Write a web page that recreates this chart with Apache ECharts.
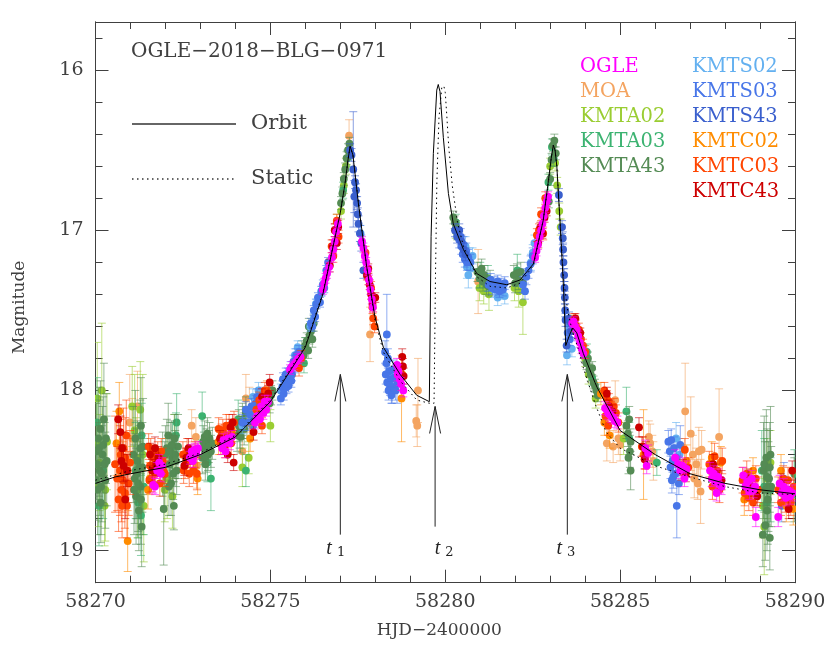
<!DOCTYPE html>
<html><head><meta charset="utf-8">
<style>html,body{margin:0;padding:0;background:#fff}#c{width:830px;height:650px}</style>
<script src="https://cdn.jsdelivr.net/npm/echarts@6/dist/echarts.min.js"></script></head>
<body><div id="c"></div>
<script>
const T0 = 58270;
const yMajor = [16, 17, 18, 19];
const yMinor = [15.8, 16.2, 16.4, 16.6, 16.8, 17.2, 17.4, 17.6, 17.8, 18.2, 18.4, 18.6, 18.8];
const titleText = 'OGLE\u22122018\u2212BLG\u22120971';

// [days after 58270, magnitude, error]
const OGLE = [[1.65,18.59,.05],[1.7,18.6,.05],[1.76,18.5,.05],[1.82,18.45,.05],[1.87,18.52,.05],[1.9,18.47,.05],
[2.7,18.42,.04],[2.75,18.38,.04],[2.78,18.44,.04],[2.8,18.41,.04],[2.84,18.37,.04],[2.88,18.39,.04],[2.93,18.36,.04],
[3.62,18.36,.04],[3.66,18.31,.04],[3.68,18.33,.04],[3.72,18.38,.04],[3.78,18.3,.04],[3.84,18.33,.04],[3.9,18.29,.04],
[4.56,18.2,.04],[4.62,18.16,.04],[4.7,18.18,.04],[4.74,18.1,.04],[4.8,18.14,.04],[4.84,18.07,.04],[4.88,18.12,.04],[4.93,18.07,.04],
[5.56,17.87,.03],[5.62,17.85,.03],[5.68,17.84,.03],[5.74,17.82,.03],[5.8,17.8,.03],[5.86,17.79,.03],
[6.5,17.37,.03],[6.54,17.33,.03],[6.58,17.3,.03],[6.62,17.27,.03],[6.68,17.23,.03],[6.76,17.17,.03],[6.8,17.12,.03],[6.84,17.07,.03],[6.88,17.01,.03],[6.93,16.96,.03],
[7.62,17.07,.03],[7.66,17.11,.03],[7.7,17.16,.03],[7.74,17.2,.03],[7.78,17.25,.03],[7.82,17.31,.03],[7.86,17.37,.03],[7.9,17.43,.03],[7.93,17.48,.03],
[8.62,17.84,.04],[8.64,17.9,.04],[8.66,17.88,.04],[8.7,17.93,.04],[8.74,17.96,.04],[8.8,18.0,.04],
[12.57,17.17,.03],[12.61,17.13,.03],[12.65,17.09,.03],[12.7,17.04,.03],[12.74,17.0,.03],[12.78,16.96,.03],[12.82,16.91,.03],[12.86,16.86,.03],[12.9,16.82,.03],[12.94,16.79,.03],
[13.63,17.58,.03],[13.67,17.57,.03],[13.71,17.6,.03],[13.76,17.62,.03],[13.8,17.66,.03],[13.85,17.7,.03],[13.9,17.74,.03],[13.95,17.77,.03],
[14.57,18.11,.04],[14.62,18.12,.04],[14.66,18.14,.04],[14.7,18.15,.04],[14.75,18.16,.04],[14.8,18.17,.04],[14.85,18.19,.04],[14.92,18.2,.04],
[15.72,18.36,.05],[15.76,18.47,.05],[15.8,18.39,.05],
[16.57,18.42,.05],[16.66,18.46,.05],[16.72,18.5,.05],[16.78,18.47,.05],[16.84,18.55,.05],[16.9,18.49,.05],
[17.57,18.5,.05],[17.62,18.55,.05],[17.68,18.52,.05],[17.72,18.57,.05],[17.76,18.64,.05],[17.8,18.54,.05],[17.86,18.59,.05],[17.9,18.6,.05],
[18.52,18.53,.05],[18.58,18.6,.05],[18.64,18.57,.05],[18.7,18.63,.05],[18.76,18.55,.05],[18.82,18.62,.05],[18.86,18.6,.05],[18.88,18.79,.06],
[19.52,18.79,.06],[19.56,18.58,.05],[19.62,18.64,.05],[19.68,18.6,.05],[19.74,18.67,.05],[19.8,18.62,.05],[19.86,18.66,.05],[19.92,18.64,.05]];

const MOA = [[.72,18.36,.2],[.98,18.2,.3],[1.2,18.1,.22],[1.05,18.3,.25],[2.87,18.29,.12],[2.9,18.47,.14],[2.75,18.22,.1],
[4.2,18.38,.12],[4.3,18.05,.15],[4.4,18.12,.14],[7.25,16.41,.1],[7.85,17.65,.17],[9.22,18.0,.2],[9.17,18.19,.1],[9.2,18.22,.13],[10.94,17.32,.2],
[14.86,18.06,.12],[14.62,18.33,.11],[14.8,18.35,.1],[14.95,18.3,.1],[15.0,18.34,.1],[15.82,18.29,.1],[15.86,18.33,.12],[15.92,18.38,.1],[15.95,18.44,.12],
[16.86,18.13,.3],[17.02,18.27,.23],[17.08,18.4,.12],[17.12,18.55,.12],[17.18,18.46,.1],[17.25,18.38,.15],[17.3,18.63,.2],[17.22,18.58,.1],[17.33,18.37,.12],[17.83,18.29,.3]];

const KMTA02 = [[.05,18.05,.35],[.18,18.0,.42],[.12,18.45,.3],[.28,18.62,.32],[.02,18.33,.25],[.26,18.72,.25],[.08,18.6,.25],[.33,18.32,.3],[1.12,18.25,.35],[1.35,18.4,.5],[1.2,18.62,.3],[1.05,18.1,.25],[1.38,18.72,.35],[1.28,18.12,.3],[1.16,18.42,.25],
[2.05,18.55,.25],[2.2,18.66,.2],[2.25,18.35,.2],[1.98,18.62,.2],[4.2,18.48,.12],[4.38,18.42,.1],[5.0,18.22,.1],[6.9,16.95,.05],[7.02,16.88,.05],[7.1,16.72,.05],[7.16,16.6,.05],
[10.3,17.0,.05],[10.98,17.36,.08],[11.1,17.38,.08],[11.25,17.4,.1],[11.98,17.36,.08],[12.22,17.45,.2],[12.1,17.38,.1],
[13.0,16.6,.05],[13.14,16.58,.05],[13.2,16.72,.05],[13.26,16.88,.05],[13.3,16.98,.05],[14.0,17.8,.05],[14.1,17.9,.06],[14.3,18.05,.06],[15.1,18.3,.1],[19.12,18.85,.3],[19.2,18.55,.25],[19.3,18.45,.2],[19.08,18.72,.2]];

const KMTA03 = [[.1,18.72,.25],[.04,18.2,.28],[.22,18.5,.3],[1.15,18.5,.3],[1.3,18.78,.25],[1.38,18.6,.3],[1.22,18.7,.22],[1.32,18.28,.2],[2.2,18.35,.15],[2.32,18.2,.18],[2.3,18.28,.14],
[3.05,18.16,.15],[3.3,18.55,.2],[3.2,18.45,.12],[4.08,18.18,.12],[4.3,18.5,.1],[5.96,17.83,.06],[6.0,17.72,.05],[7.08,16.75,.05],[7.2,16.55,.05],
[10.3,16.95,.05],[11.0,17.28,.08],[11.22,17.3,.08],[12.06,17.25,.1],[12.95,16.7,.05],[13.05,16.48,.05],[13.1,16.55,.05],[14.05,17.76,.05],[14.2,17.92,.05],
[15.18,18.13,.15],[15.26,18.3,.1],[16.05,18.45,.08],[19.05,18.5,.25],[19.2,18.7,.2],[19.3,18.62,.2],[19.12,18.6,.3],[19.98,18.52,.15]];

const KMTA43 = [[.02,18.38,.3],[.08,18.3,.32],[.12,18.5,.28],[.16,18.6,.3],[.2,18.4,.3],[.24,18.18,.35],[.28,18.56,.3],[.32,18.44,.28],[.06,18.62,.28],[.14,18.24,.3],[.04,18.46,.26],[.1,18.36,.3],[.18,18.52,.3],[.22,18.34,.3],[.26,18.46,.26],[.3,18.3,.28],[.01,18.56,.25],[.15,18.7,.25],
[1.08,18.4,.3],[1.12,18.55,.28],[1.16,18.66,.3],[1.2,18.44,.25],[1.24,18.75,.25],[1.28,18.6,.3],[1.3,18.22,.3],[1.32,18.85,.25],[1.36,18.35,.3],[1.34,18.48,.28],[1.14,18.3,.3],[1.18,18.52,.28],[1.22,18.58,.3],[1.26,18.48,.26],[1.3,18.68,.28],[1.1,18.62,.28],[1.28,18.36,.3],
[1.92,18.46,.2],[1.98,18.52,.2],[2.04,18.36,.18],[2.08,18.28,.2],[2.12,18.46,.18],[2.16,18.58,.2],[2.2,18.42,.15],[2.24,18.72,.15],[2.28,18.4,.15],[2.32,18.5,.15],[2.36,18.35,.2],[1.95,18.74,.35],[2.1,18.6,.18],[2.0,18.4,.18],[2.14,18.38,.18],[2.18,18.34,.15],[2.22,18.52,.16],[2.26,18.3,.15],[2.3,18.44,.16],
[3.05,18.42,.1],[3.1,18.36,.1],[3.14,18.46,.1],[3.18,18.34,.1],[3.22,18.4,.1],[3.26,18.3,.1],[3.3,18.38,.1],[3.34,18.33,.1],[3.12,18.29,.1],[3.2,18.27,.1],[3.08,18.32,.1],[3.16,18.41,.1],[3.24,18.35,.1],
[4.05,18.28,.1],[4.1,18.22,.1],[4.15,18.29,.1],[4.2,18.18,.1],[4.25,18.24,.1],[4.3,18.14,.1],[4.33,18.2,.1],[4.12,18.26,.1],[4.22,18.2,.1],
[4.98,18.08,.06],[5.02,18.03,.06],[5.06,18.0,.06],
[5.9,17.74,.05],[5.95,17.78,.05],[6.0,17.72,.05],[6.04,17.69,.05],[6.08,17.75,.05],[6.12,17.66,.05],[6.16,17.63,.05],[6.2,17.68,.05],[6.1,17.6,.05],[6.24,17.58,.05],
[7.02,16.83,.04],[7.06,16.77,.04],[7.1,16.68,.04],[7.14,16.62,.04],[7.18,16.55,.04],[7.22,16.5,.04],[7.26,16.46,.04],
[10.23,16.92,.04],[10.27,16.95,.04],[10.31,16.98,.04],[10.34,17.02,.04],
[10.92,17.26,.06],[10.98,17.3,.06],[11.04,17.24,.06],[11.08,17.32,.06],[11.12,17.28,.06],[11.18,17.34,.06],[11.24,17.35,.06],[11.28,17.31,.06],
[11.96,17.28,.06],[12.0,17.33,.06],[12.05,17.27,.06],[12.1,17.31,.06],[12.16,17.26,.06],[12.22,17.33,.06],
[12.96,16.82,.04],[13.0,16.68,.04],[13.04,16.56,.04],[13.08,16.47,.04],[13.12,16.44,.04],[13.16,16.52,.04],
[13.98,17.78,.04],[14.04,17.83,.04],[14.08,17.8,.04],[14.12,17.87,.04],[14.16,17.9,.04],[14.2,17.86,.04],[14.24,17.95,.04],[14.28,17.97,.04],[14.32,18.0,.04],[14.36,18.03,.04],
[15.18,18.22,.08],[15.22,18.27,.08],[15.26,18.18,.08],[15.3,18.32,.08],[15.28,18.38,.1],[15.24,18.42,.1],[15.3,18.5,.12],
[19.1,18.5,.3],[19.14,18.62,.3],[19.18,18.42,.3],[19.22,18.68,.28],[19.26,18.55,.3],[19.3,18.4,.3],[19.08,18.9,.2],[19.28,18.92,.2],[19.2,18.75,.25],[19.15,18.84,.22],[19.32,18.6,.25],[19.98,18.62,.2],[19.12,18.46,.3],[19.24,18.6,.28],[19.28,18.48,.28],[19.2,18.54,.3]];

const KMTS02 = [[4.2,18.22,.05],[4.5,18.04,.05],[4.66,18.0,.05],[5.3,18.0,.04],[5.5,17.92,.04],[5.7,17.78,.04],[5.78,17.73,.04],[6.14,17.6,.03],[6.24,17.55,.03],[6.3,17.46,.03],[6.46,17.38,.03],
[7.58,17.02,.05],[10.58,17.1,.06],[10.62,17.23,.07],[10.66,17.28,.08],[10.72,17.24,.06],[10.78,17.16,.05],[10.7,17.18,.07],[11.5,17.42,.05],[11.62,17.38,.05],[11.7,17.41,.05],[11.4,17.37,.05],
[12.45,17.2,.05],[12.5,17.14,.05],[12.55,17.08,.05],[13.48,17.78,.06],[13.54,17.6,.05],[13.62,17.74,.05],[16.6,18.3,.1],[16.7,18.4,.1]];

const KMTS03 = [[4.2,18.2,.05],[4.3,18.12,.05],[4.38,18.2,.05],[4.46,18.1,.05],[4.52,18.18,.05],[4.58,18.08,.05],[4.66,18.14,.05],[4.78,18.03,.05],[4.42,18.15,.05],[4.5,18.22,.05],[4.62,18.04,.05],
[5.3,18.05,.04],[5.34,17.98,.04],[5.38,18.02,.04],[5.42,17.94,.04],[5.46,17.98,.04],[5.5,17.9,.04],[5.54,17.93,.04],[5.58,17.86,.04],[5.62,17.9,.04],[5.66,17.82,.04],[5.7,17.85,.04],[5.74,17.78,.04],[5.78,17.84,.04],[5.82,17.76,.04],[5.36,17.93,.04],[5.44,17.9,.04],[5.52,17.97,.04],[5.6,17.94,.04],
[6.16,17.58,.03],[6.2,17.6,.03],[6.24,17.5,.03],[6.28,17.54,.03],[6.32,17.46,.03],[6.36,17.42,.03],[6.42,17.45,.03],[6.46,17.38,.03],[6.5,17.34,.03],[6.54,17.36,.03],[6.6,17.25,.03],[6.65,17.2,.03],
[8.33,17.65,.25],[8.28,17.76,.07],[8.32,17.83,.06],[8.36,17.8,.06],[8.3,17.9,.06],[8.4,17.88,.06],[8.34,17.95,.06],[8.44,17.93,.06],[8.38,18.0,.06],[8.48,17.98,.1],[8.54,17.92,.06],[8.58,18.0,.06],[8.5,17.87,.06],[8.42,17.97,.06],[8.46,18.03,.05],[8.62,17.96,.12],
[10.4,17.06,.05],[10.46,17.1,.05],[10.5,17.15,.05],[10.56,17.18,.05],[10.62,17.2,.05],[10.44,17.04,.05],[10.52,17.09,.05],[10.6,17.13,.05],[10.66,17.17,.05],[10.72,17.2,.05],
[11.24,17.34,.04],[11.3,17.31,.04],[11.35,17.36,.04],[11.4,17.33,.04],[11.45,17.37,.04],[11.5,17.32,.04],[11.55,17.38,.04],[11.6,17.34,.04],[11.65,17.37,.04],[11.7,17.33,.04],
[12.22,17.34,.05],[12.28,17.38,.05],[12.32,17.29,.05],[12.38,17.25,.05],[12.44,17.21,.05],[12.5,17.16,.05],
[13.5,17.64,.04],[13.56,17.68,.04],
[16.38,18.32,.07],[16.42,18.38,.07],[16.46,18.31,.07],[16.5,18.44,.07],[16.54,18.36,.07],[16.44,18.48,.07],[16.52,18.54,.07],[16.6,18.42,.08],[16.58,18.52,.07],[16.62,18.72,.2],[16.68,18.58,.07],[16.72,18.34,.12],[16.48,18.56,.08],
[19.62,18.72,.1],[19.68,18.55,.1]];

const KMTS43 = [[7.28,16.5,.04],[7.32,16.53,.04],[7.37,16.62,.36],[7.4,16.79,.1],[7.42,16.7,.04],[7.45,16.75,.04],[7.48,16.83,.04],[7.5,16.9,.04],[7.52,16.96,.05],[7.56,17.02,.05],[7.6,17.08,.05],[7.66,17.25,.05],
[10.28,17.0,.04],[10.34,17.04,.04],[10.4,17.0,.04],[10.46,17.07,.04],[10.52,17.12,.04],[10.58,17.15,.04],
[13.34,16.98,.04],[13.36,17.05,.04],[13.37,17.12,.04],[13.38,17.2,.04],[13.4,17.28,.04],[13.41,17.36,.04],[13.42,17.42,.04],[13.43,17.5,.04],[13.44,17.56,.04],[13.47,17.72,.04],[13.54,17.55,.04],[13.6,17.63,.04],[13.6,17.58,.04],[13.25,16.78,.04]];

const KMTC02 = [[.68,18.13,.18],[.6,18.33,.2],[.92,18.94,.19],[.78,18.5,.18],[1.55,18.55,.1],[1.5,18.62,.12],[2.92,18.55,.1],[3.52,18.32,.08],[3.9,18.25,.07],[4.42,18.3,.08],[4.9,18.0,.06],
[8.75,18.05,.27],[8.77,17.9,.1],[13.7,17.58,.05],[14.45,18.02,.07],[14.7,18.28,.08],[14.55,18.2,.08],[15.67,18.4,.28],[16.9,18.44,.1],[17.62,18.42,.1],[17.88,18.45,.1],[18.55,18.68,.1],[18.8,18.5,.08],[19.75,18.72,.1],[19.95,18.74,.1],[19.6,18.5,.1]];

const KMTC03 = [[.56,18.46,.3],[.62,18.55,.2],[.7,18.5,.28],[.74,18.62,.2],[.8,18.36,.25],[.85,18.42,.25],[.9,18.72,.2],[.95,18.58,.2],[.99,18.45,.2],[.66,18.68,.2],[.88,18.28,.22],[.72,18.4,.22],[.78,18.56,.2],[.84,18.64,.22],[.92,18.5,.2],[.76,18.72,.2],
[1.52,18.35,.08],[1.56,18.47,.08],[1.6,18.55,.08],[1.66,18.42,.08],[1.72,18.52,.08],[1.78,18.4,.08],[1.84,18.58,.08],[1.92,18.44,.08],[1.98,18.52,.08],[1.58,18.38,.08],[1.64,18.5,.08],[1.88,18.38,.08],[1.94,18.5,.08],[1.54,18.56,.08],
[2.5,18.4,.08],[2.56,18.47,.08],[2.62,18.38,.08],[2.68,18.52,.08],[2.72,18.44,.08],[2.8,18.5,.08],[2.85,18.4,.08],[2.9,18.52,.1],[2.52,18.5,.08],[2.6,18.44,.08],
[3.52,18.24,.07],[3.58,18.33,.07],[3.64,18.25,.07],[3.7,18.35,.07],[3.76,18.28,.07],[3.82,18.22,.07],[3.88,18.33,.07],[3.96,18.2,.07],[3.6,18.28,.07],[3.74,18.22,.07],
[4.6,18.12,.05],[4.68,18.06,.05],[4.76,18.22,.05],[4.84,18.0,.05],
[5.82,17.86,.05],[5.88,17.8,.05],
[6.75,17.1,.04],[6.8,17.16,.04],[6.85,17.0,.04],[6.9,16.94,.04],[6.95,17.04,.04],
[7.72,17.14,.04],[7.8,17.3,.04],[7.88,17.36,.04],[7.94,17.55,.04],[7.98,17.6,.04],[7.92,17.48,.04],
[12.62,17.03,.04],[12.68,17.0,.04],[12.74,16.9,.04],[12.8,17.02,.04],[12.86,16.8,.04],
[13.68,17.56,.04],[13.74,17.6,.04],[13.82,17.62,.04],[13.88,17.68,.04],[13.94,17.72,.04],[14.0,17.76,.04],
[14.55,18.0,.05],[14.62,18.05,.05],[14.68,18.07,.05],[14.74,18.12,.05],[14.82,18.1,.05],[14.88,18.14,.05],[14.66,18.22,.06],[14.58,18.16,.05],[14.95,18.2,.06],
[15.62,18.35,.06],[15.72,18.42,.07],[16.85,18.37,.07],[16.75,18.5,.06],[16.95,18.48,.06],
[17.55,18.46,.08],[17.64,18.6,.08],[17.7,18.41,.08],[17.78,18.5,.08],[17.84,18.62,.08],[17.92,18.44,.08],
[18.5,18.56,.08],[18.56,18.64,.08],[18.62,18.52,.08],[18.68,18.67,.08],[18.74,18.6,.08],[18.8,18.7,.08],[18.88,18.55,.08],[18.94,18.62,.08],
[19.52,18.62,.08],[19.6,18.7,.08],[19.66,18.55,.08],[19.72,18.68,.08],[19.8,18.56,.08],[19.88,18.7,.08],[19.96,18.6,.08]];

const KMTC43 = [[.65,18.18,.09],[.71,18.26,.1],[.74,18.44,.1],[.8,18.47,.1],[.85,18.68,.12],[.9,18.5,.1],[.76,18.36,.1],
[1.56,18.4,.07],[1.62,18.5,.07],[1.7,18.36,.07],[1.8,18.42,.07],[1.74,18.46,.07],[2.54,18.47,.06],[2.6,18.42,.06],[2.66,18.36,.06],[2.72,18.4,.06],
[3.56,18.3,.05],[3.7,18.33,.05],[3.78,18.4,.05],[3.86,18.23,.05],[3.92,18.2,.05],[3.95,18.45,.05],
[4.52,18.26,.05],[4.76,18.04,.05],[4.94,18.02,.05],[4.98,17.95,.05],
[6.7,17.22,.04],[6.78,17.1,.04],[6.84,17.0,.04],[6.9,17.08,.04],[6.94,16.98,.04],
[7.76,17.28,.03],[7.8,17.24,.03],[7.84,17.34,.03],[7.88,17.4,.03],[7.92,17.46,.03],[8.0,17.42,.03],
[8.77,17.79,.05],[8.79,17.85,.05],[8.81,17.91,.05],
[12.66,17.08,.03],[12.72,16.98,.03],[12.78,17.02,.03],[12.84,16.92,.03],[12.9,16.88,.03],
[13.72,17.55,.03],[13.86,17.64,.03],[14.62,18.02,.04],[14.68,18.1,.04],[14.78,18.13,.04],
[15.54,18.23,.06],[15.65,18.35,.06],[15.7,18.43,.06],[15.74,18.38,.06],
[16.8,18.48,.05],[16.88,18.52,.05],[17.66,18.46,.06],[17.74,18.52,.06],[17.9,18.56,.06],
[18.66,18.55,.06],[18.78,18.6,.06],[18.92,18.66,.06],[19.6,18.58,.06],[19.7,18.62,.06],[19.82,18.74,.06],[19.92,18.5,.06]];

const surveys = [
 ['MOA', MOA, '#f4a460'], ['KMTA02', KMTA02, '#9acd32'], ['KMTA03', KMTA03, '#3cb371'], ['KMTA43', KMTA43, '#548b54'],
 ['KMTS02', KMTS02, '#63b0f0'], ['KMTS03', KMTS03, '#4876e8'], ['KMTS43', KMTS43, '#3a5fcd'],
 ['KMTC02', KMTC02, '#ff8c00'], ['KMTC03', KMTC03, '#ff4500'], ['KMTC43', KMTC43, '#cd0000'], ['OGLE', OGLE, '#ff00ff']
];
const legendLeft = ['OGLE','MOA','KMTA02','KMTA03','KMTA43'];
const legendRight = ['KMTS02','KMTS03','KMTS43','KMTC02','KMTC03','KMTC43'];

// model curves
const orbitT = [0,.56,1,2,3,4,5,6,6.5,7,7.14,7.22,7.28,7.36,7.515,7.755,7.99,8.23,8.71,9.185,9.545,9.595,9.66,9.757,9.8,9.85,9.945,10.09,10.23,10.52,10.9,11.28,11.76,12.14,12.52,12.8,12.95,13.03,13.09,13.14,13.19,13.28,13.38,13.445,13.475,13.56,13.645,13.76,13.95,14.28,14.34,15,16,17,18,19,20];
const orbitM = [18.58,18.54,18.52,18.48,18.4,18.29,18.07,17.73,17.4,16.89,16.7,16.56,16.475,16.53,16.83,17.23,17.54,17.73,17.9,18.03,18.07,17.04,16.52,16.125,16.09,16.135,16.42,16.77,16.96,17.12,17.27,17.32,17.34,17.31,17.21,16.94,16.69,16.55,16.47,16.5,16.6,16.94,17.35,17.72,17.73,17.65,17.61,17.64,17.77,17.95,17.98,18.25,18.4,18.52,18.58,18.62,18.645];
const staticT = [0,1,2,3,4,5,6,6.5,7,7.14,7.22,7.28,7.36,7.515,7.755,7.99,8.23,8.71,9.185,9.55,9.68,9.72,9.76,9.82,9.9,9.96,10.0,10.04,10.1,10.2,10.35,10.52,10.9,11.28,11.76,12.14,12.52,12.8,12.95,13.03,13.09,13.14,13.19,13.28,13.38,13.5,13.62,13.8,13.95,14.28,14.6,15,16,17,18,19,20];
const staticM = [18.56,18.5,18.46,18.39,18.28,18.06,17.72,17.39,16.89,16.7,16.56,16.48,16.53,16.82,17.23,17.56,17.76,17.94,18.06,18.08,18.08,17.3,16.7,16.3,16.11,16.1,16.14,16.27,16.48,16.72,16.95,17.1,17.29,17.35,17.36,17.33,17.22,16.94,16.7,16.55,16.47,16.5,16.6,16.93,17.3,17.5,17.62,17.74,17.86,18.08,18.26,18.36,18.47,18.54,18.6,18.64,18.65];

// event markers
const arrowLabels = ['1','2','3'];
const arrowT = [58277, 58279.71, 58283.49];
const arrowTip = [17.9, 18.1, 17.9];
const arrowTail = [18.9, 18.85, 18.9];
const labelT = [58276.6, 58279.7, 58283.18];
const labelM = [18.92, 18.92, 18.92];

const FONT = '"DejaVu Serif"';
const INK = '#404040';

function pointItem(color){
  return function(params, api){
    const t = api.value(0), m = api.value(1), e = api.value(2);
    const p = api.coord([t, m]), a = api.coord([t, m - e]), b = api.coord([t, m + e]);
    const es = {stroke: color, lineWidth: 1, opacity: .6};
    return {type:'group', children:[
      {type:'line', shape:{x1:p[0],y1:a[1],x2:p[0],y2:b[1]}, style:es},
      {type:'line', shape:{x1:p[0]-4,y1:a[1],x2:p[0]+4,y2:a[1]}, style:es},
      {type:'line', shape:{x1:p[0]-4,y1:b[1],x2:p[0]+4,y2:b[1]}, style:es},
      {type:'circle', shape:{cx:p[0],cy:p[1],r:3.9}, style:{fill:color}}
    ]};
  };
}
const series = surveys.map(([name, rows, color]) => ({
  name, type:'custom', coordinateSystem:'cartesian2d', clip:true, progressive:0, animation:false,
  itemStyle:{color}, encode:{x:0,y:1}, silent:true,
  data: rows.map(r => [T0 + r[0], r[1], r[2]]),
  renderItem: pointItem(color), z:2
}));
series.push({name:'Orbit', type:'line', data:orbitT.map((t,i)=>[T0+t,orbitM[i]]), symbol:'none', animation:false, clip:true, z:5,
  lineStyle:{color:'#000',width:1}, itemStyle:{color:'#000'}});
series.push({name:'Static', type:'line', data:staticT.map((t,i)=>[T0+t,staticM[i]]), symbol:'none', animation:false, clip:true, z:5,
  lineStyle:{color:'#000',width:1,type:[1.5,3.5]}, itemStyle:{color:'#000'}});
series.push({name:'markers', type:'custom', coordinateSystem:'cartesian2d', animation:false, z:6, silent:true, encode:{x:0,y:1},
  data: arrowT.map((t,i)=>[t,arrowTip[i],arrowTail[i],labelT[i],labelM[i]]),
  renderItem(params, api){
    const tip = api.coord([api.value(0), api.value(1)]), tail = api.coord([api.value(0), api.value(2)]);
    const lab = api.coord([api.value(3), api.value(4)]);
    const st = {stroke:'#222', lineWidth:1, fill:null};
    const lbl = arrowLabels[params.dataIndex];
    return {type:'group', children:[
      {type:'line', shape:{x1:tip[0],y1:tip[1],x2:tail[0],y2:tail[1]}, style:st},
      {type:'polyline', shape:{points:[[tip[0]-5.5,tip[1]+27],[tip[0],tip[1]],[tip[0]+5.5,tip[1]+27]]}, style:st},
      {type:'text', x:lab[0], y:lab[1], style:{text:'{t|t}{s|'+lbl+'}', fill:'#222',
        rich:{t:{font:'italic 20px "Liberation Serif"',fill:'#222'}, s:{font:'13px '+FONT,fill:'#222',padding:[8,0,0,5]}}}}
    ]};
  }
});

const axisLine = {show:true, onZero:false, lineStyle:{color:INK,width:1}};
function yAxis(position, values, len, labels){
  return {type:'value', inverse:true, min:15.7, max:19.2, position, scale:true,
    axisLine, splitLine:{show:false},
    axisTick:{show:true, inside:true, length:len, customValues:values, lineStyle:{color:INK}},
    axisLabel: labels ? {show:true, customValues:values, margin:12, color:INK, fontFamily:FONT, fontSize:19} : {show:false},
    name: labels ? 'Magnitude' : '', nameLocation:'middle', nameGap:67, nameRotate:90,
    nameTextStyle:{color:INK, fontFamily:FONT, fontSize:17, padding:[0,10,0,0]}};
}
function xAxis(position, labels){
  return {type:'value', min:58270, max:58290, interval:5, position, scale:true,
    axisLine, splitLine:{show:false}, minorSplitLine:{show:false},
    axisTick:{show:true, inside:true, length:13, lineStyle:{color:INK}},
    minorTick:{show:true, splitNumber:5, length:7, lineStyle:{color:INK}},
    axisLabel: labels ? {show:true, margin:10, color:INK, fontFamily:FONT, fontSize:19, formatter:v=>String(v), showMinLabel:true, showMaxLabel:true, hideOverlap:false} : {show:false},
    name: labels ? 'HJD\u22122400000' : '', nameLocation:'middle', nameGap:39,
    nameTextStyle:{color:INK, fontFamily:FONT, fontSize:17, padding:[0,12,0,0]}};
}
const colorOf = n => surveys.find(s=>s[0]===n)[2];
const legendOf = (names,left,top) => ({
  show:true, orient:'vertical', left, top, padding:0, itemGap:4.6, itemWidth:0, itemHeight:21, icon:'none', selectedMode:false,
  data:names.map(n=>({name:n, icon:'none', textStyle:{color:colorOf(n), fontFamily:FONT, fontSize:19.5}}))
});
const chart = echarts.init(document.getElementById('c'), null, {renderer:'canvas'});
chart.setOption({
  animation:false, backgroundColor:'#fff',
  title:{text:titleText, left:131, top:42, padding:0, textStyle:{color:INK,fontFamily:FONT,fontSize:20,fontWeight:'normal'}},
  grid:{left:95.5, top:22, width:699.5, height:560.7, containLabel:false},
  legend:[legendOf(legendLeft,575,56), legendOf(legendRight,687,56),
    {show:true, orient:'vertical', left:131, top:113.5, padding:0, itemGap:34, itemWidth:104, itemHeight:21, selectedMode:false,
     itemStyle:{opacity:0}, lineStyle:{color:'#666'},
     data:[{name:'Orbit'},{name:'Static'}], textStyle:{color:INK,fontFamily:FONT,fontSize:21,padding:[0,0,8,10]}}],
  xAxis:[xAxis('bottom',true), xAxis('top',false)],
  yAxis:[yAxis('left',yMajor,13,true), yAxis('left',yMinor,7,false), yAxis('right',yMajor,13,false), yAxis('right',yMinor,7,false)],
  series
});
</script></body></html>
